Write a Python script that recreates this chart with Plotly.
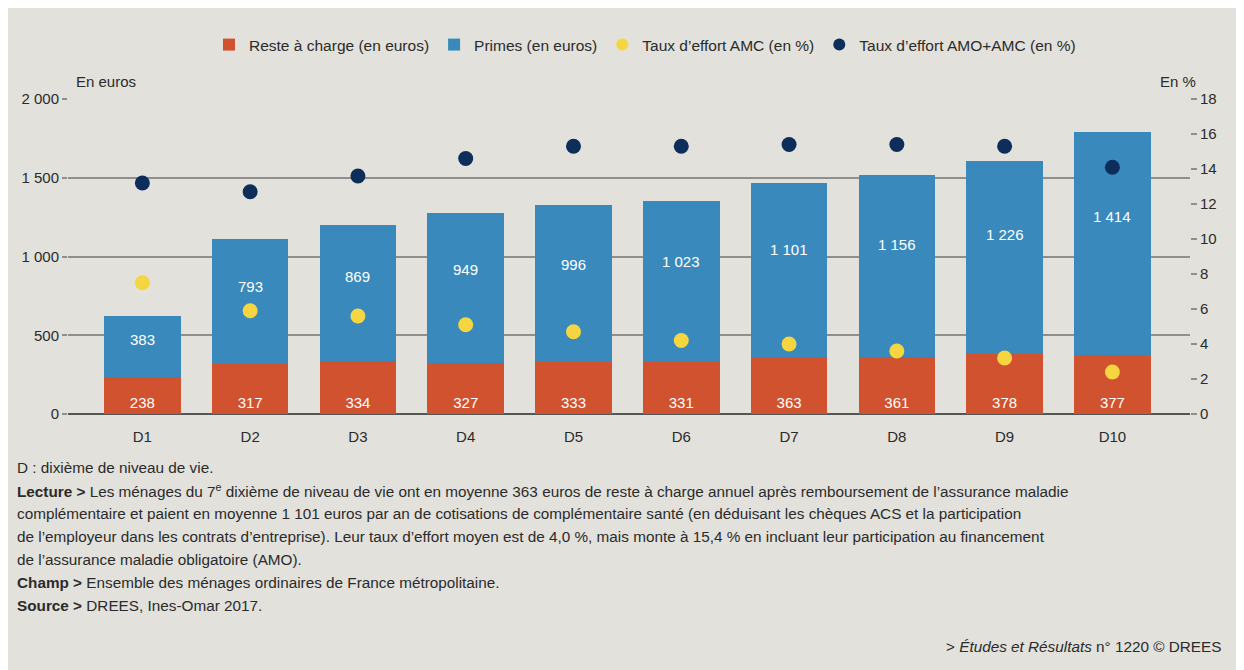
import plotly.graph_objects as go

categories = ["D1", "D2", "D3", "D4", "D5", "D6", "D7", "D8", "D9", "D10"]
reste_a_charge = [238, 317, 334, 327, 333, 331, 363, 361, 378, 377]
primes = [383, 793, 869, 949, 996, 1023, 1101, 1156, 1226, 1414]
taux_amc = [7.5, 5.9, 5.6, 5.1, 4.7, 4.2, 4.0, 3.6, 3.2, 2.4]
taux_amo_amc = [13.2, 12.7, 13.6, 14.6, 15.3, 15.3, 15.4, 15.4, 15.3, 14.1]
y_ticks = [0, 500, 1000, 1500, 2000]
y_ticktext = ["0", "500", "1 000", "1 500", "2 000"]

def fr(n):
    return f"{n:,}".replace(",", " ")

RED = "#d0522f"
BLUE = "#3a89bd"
YELLOW = "#f5d640"
NAVY = "#0d2d5a"
BG = "#e2e1dc"
GRID = "#8f8f8f"
TXT = "#2b2b2b"
FONT = "Liberation Sans, Arial, sans-serif"

# page offset (body margin) is 8px; geometry in screenshot pixels
OFF = 8
W, H = 1236, 662
L, R, T, B = 60, 54, 91, 256
PW = W - L - R
PH = H - T - B

def px_x(px):
    return (px - OFF - L) / PW

def px_y(py):
    return (H - B - (py - OFF)) / PH

fig = go.Figure()
fig.add_trace(go.Bar(
    x=categories, y=reste_a_charge, name="Reste à charge (en euros)",
    marker=dict(color=RED, line=dict(width=0)),
    text=[fr(v) for v in reste_a_charge], textposition="inside",
    insidetextanchor="start", textangle=0, constraintext="none",
    textfont=dict(color="white", size=15, family=FONT),
))
fig.add_trace(go.Bar(
    x=categories, y=primes, name="Primes (en euros)",
    marker=dict(color=BLUE, line=dict(width=0)),
))
fig.add_trace(go.Scatter(
    x=categories, y=taux_amc, name="Taux d’effort AMC (en %)", mode="markers",
    marker=dict(color=YELLOW, size=15), yaxis="y2",
))
fig.add_trace(go.Scatter(
    x=categories, y=taux_amo_amc, name="Taux d’effort AMO+AMC (en %)", mode="markers",
    marker=dict(color=NAVY, size=15), yaxis="y2",
))

annotations = []
for c, r, p in zip(categories, reste_a_charge, primes):
    annotations.append(dict(
        x=c, y=r + 0.62 * p, xref="x", yref="y", text=fr(p), showarrow=False,
        font=dict(color="white", size=15, family=FONT),
    ))

annotations.append(dict(x=px_x(74), y=px_y(82), xref="paper", yref="paper",
                        text="En euros", showarrow=False, xanchor="left", yanchor="middle",
                        font=dict(size=15, color=TXT, family=FONT)))
annotations.append(dict(x=px_x(1198), y=px_y(82), xref="paper", yref="paper",
                        text="En %", showarrow=False, xanchor="right", yanchor="middle",
                        font=dict(size=15, color=TXT, family=FONT)))

notes = [
    "D : dixième de niveau de vie.",
    "<b>Lecture ></b> Les ménages du 7<sup>e</sup> dixième de niveau de vie ont en moyenne 363 euros de reste à charge annuel après remboursement de l’assurance maladie",
    "complémentaire et paient en moyenne 1 101 euros par an de cotisations de complémentaire santé (en déduisant les chèques ACS et la participation",
    "de l’employeur dans les contrats d’entreprise). Leur taux d’effort moyen est de 4,0 %, mais monte à 15,4 % en incluant leur participation au financement",
    "de l’assurance maladie obligatoire (AMO).",
    "<b>Champ ></b> Ensemble des ménages ordinaires de France métropolitaine.",
    "<b>Source ></b> DREES, Ines-Omar 2017.",
]
for i, line in enumerate(notes):
    annotations.append(dict(x=px_x(15), y=px_y(467 + 23 * i), xref="paper", yref="paper",
                            text=line, showarrow=False, xanchor="left", yanchor="middle",
                            align="left", font=dict(size=15.3, color=TXT, family=FONT)))
annotations.append(dict(x=px_x(1223), y=px_y(646), xref="paper", yref="paper",
                        text="> <i>Études et Résultats</i> n° 1220 © DREES", showarrow=False,
                        xanchor="right", yanchor="middle",
                        font=dict(size=15.3, color=TXT, family=FONT)))

fig.update_layout(
    width=W, height=H,
    margin=dict(l=L, r=R, t=T, b=B),
    barmode="stack", bargap=0.29,
    paper_bgcolor=BG, plot_bgcolor=BG,
    font=dict(family=FONT, size=15, color=TXT),
    showlegend=True,
    legend=dict(orientation="h", x=px_x(645), xanchor="center", y=px_y(45), yanchor="middle",
                bgcolor="rgba(0,0,0,0)", font=dict(size=15.5, color=TXT, family=FONT),
                traceorder="normal", itemsizing="constant"),
    xaxis=dict(range=[-0.69, 9.72], showgrid=False, showline=False, ticks="",
               tickfont=dict(size=15, color=TXT), ticklabelstandoff=12, fixedrange=True),
    yaxis=dict(range=[0, 2000], tickvals=y_ticks, ticktext=y_ticktext,
               showgrid=True, gridcolor=GRID, gridwidth=1.5,
               zeroline=True, zerolinecolor="#555555", zerolinewidth=2,
               ticks="outside", ticklen=5, tickcolor=GRID, tickwidth=1.5,
               tickfont=dict(size=15, color=TXT), showline=False),
    yaxis2=dict(range=[0, 18], dtick=2, overlaying="y", side="right",
                showgrid=False, zeroline=False, showline=False,
                ticks="outside", ticklen=6, tickcolor=GRID, tickwidth=1.5,
                tickfont=dict(size=15, color=TXT)),
    annotations=annotations,
)

fig.write_html("out.html")
